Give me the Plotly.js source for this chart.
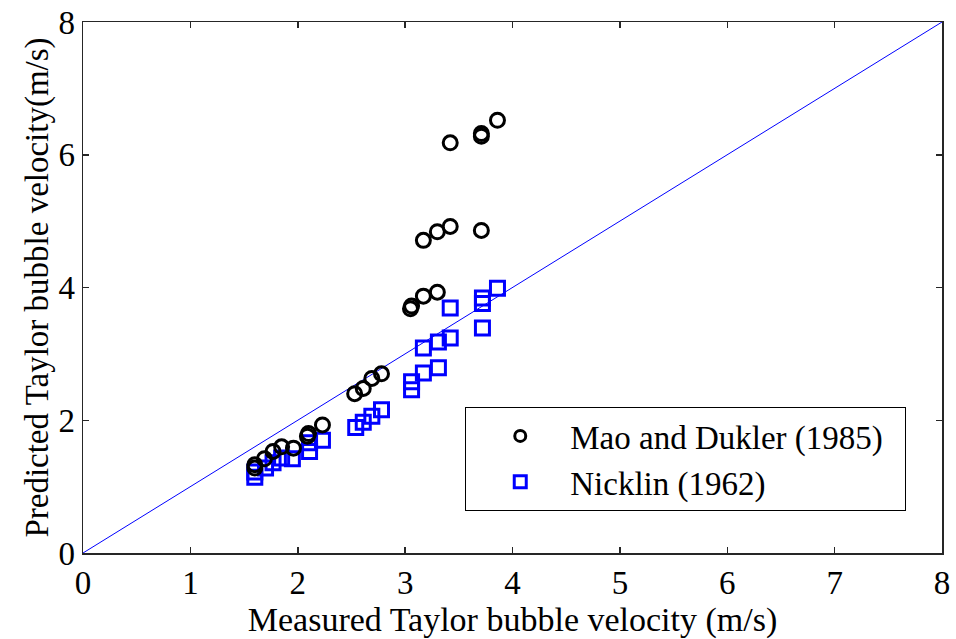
<!DOCTYPE html>
<html>
<head>
<meta charset="utf-8">
<script src="https://cdn.plot.ly/plotly-3.0.1.min.js"></script>
<style>html,body{margin:0;padding:0;background:#fff;}#chart{width:956px;height:639px;}</style>
</head>
<body>
<div id="chart"></div>
<script>
// Mao and Dukler (1985) correlation: measured vs predicted
var maoX = [1.60,1.60,1.69,1.77,1.85,1.96,2.09,2.10,2.23,2.53,2.61,2.69,2.78,3.05,3.06,3.17,3.30,3.17,3.30,3.42,3.71,3.42,3.71,3.71,3.86];
var maoY = [1.28,1.33,1.42,1.53,1.60,1.58,1.76,1.80,1.93,2.40,2.48,2.63,2.70,3.68,3.72,3.87,3.93,4.71,4.84,4.92,4.86,6.18,6.28,6.32,6.52];
// Nicklin (1962) correlation
var nickX = [1.60,1.60,1.70,1.77,1.85,1.95,2.11,2.11,2.23,2.54,2.61,2.69,2.78,3.06,3.06,3.17,3.17,3.31,3.31,3.42,3.42,3.72,3.72,3.72,3.86];
var nickY = [1.14,1.22,1.28,1.36,1.43,1.42,1.53,1.66,1.70,1.89,1.97,2.06,2.16,2.46,2.58,2.71,3.09,2.79,3.18,3.24,3.69,3.39,3.76,3.84,3.99];
// 1:1 reference line
var lineX = [0, 8];
var lineY = [0, 8];
var tickVals = [0,1,2,3,4,5,6,7,8];
var yTickVals = [0,2,4,6,8];
var maoName = 'Mao and Dukler (1985)';
var nickName = 'Nicklin (1962)';

var serif = '"Liberation Serif", "Times New Roman", serif';
var pad = '\u00a0\u00a0';

var traces = [
  {x: lineX, y: lineY, mode: 'lines', line: {color: '#0000ff', width: 1}, showlegend: false, hoverinfo: 'skip'},
  {x: nickX, y: nickY, mode: 'markers', name: nickName, showlegend: false,
   marker: {symbol: 'square-open', size: 14, color: '#0000ff', line: {width: 3, color: '#0000ff'}}},
  {x: maoX, y: maoY, mode: 'markers', name: maoName, showlegend: false,
   marker: {symbol: 'circle-open', size: 14, color: '#000000', line: {width: 3, color: '#000000'}}},
  // legend entries
  {x: [null], y: [null], mode: 'markers', name: maoName + pad, showlegend: true,
   marker: {symbol: 'circle-open', size: 11, color: '#000000', line: {width: 3, color: '#000000'}}},
  {x: [null], y: [null], mode: 'markers', name: nickName + pad, showlegend: true,
   marker: {symbol: 'square-open', size: 12, color: '#0000ff', line: {width: 3, color: '#0000ff'}}}
];

var axisCommon = {
  showgrid: false, zeroline: false, showline: true, mirror: 'ticks',
  linecolor: '#262626', linewidth: 1.5,
  ticks: 'inside', ticklen: 6, tickwidth: 1.5, tickcolor: '#262626',
  tickfont: {family: serif, size: 33, color: '#000'}
};

var layout = {
  width: 956, height: 639,
  margin: {l: 83, r: 14, t: 22, b: 86},
  paper_bgcolor: '#fff', plot_bgcolor: '#fff',
  font: {family: serif, color: '#000'},
  xaxis: Object.assign({}, axisCommon, {
    range: [0, 8], tickvals: tickVals, ticktext: tickVals.map(String),
    ticklabelstandoff: 0,
    title: {text: 'Measured Taylor bubble velocity (m/s)', font: {family: serif, size: 34, color: '#000'}, standoff: 0}
  }),
  yaxis: Object.assign({}, axisCommon, {
    range: [0, 8], tickvals: yTickVals, ticktext: yTickVals.map(String),
    ticklabelstandoff: 0,
    title: {text: 'Predicted Taylor bubble velocity(m/s)', font: {family: serif, size: 33, color: '#000'}, standoff: 0}
  }),
  legend: {
    x: 0.445, y: 0.275, xanchor: 'left', yanchor: 'top',
    bgcolor: '#fff', bordercolor: '#000', borderwidth: 1,
    font: {family: serif, size: 33, color: '#000'},
    itemwidth: 90, indentation: 4,
    traceorder: 'normal'
  },
  showlegend: true
};

Plotly.newPlot('chart', traces, layout, {staticPlot: true});
</script>
</body>
</html>
